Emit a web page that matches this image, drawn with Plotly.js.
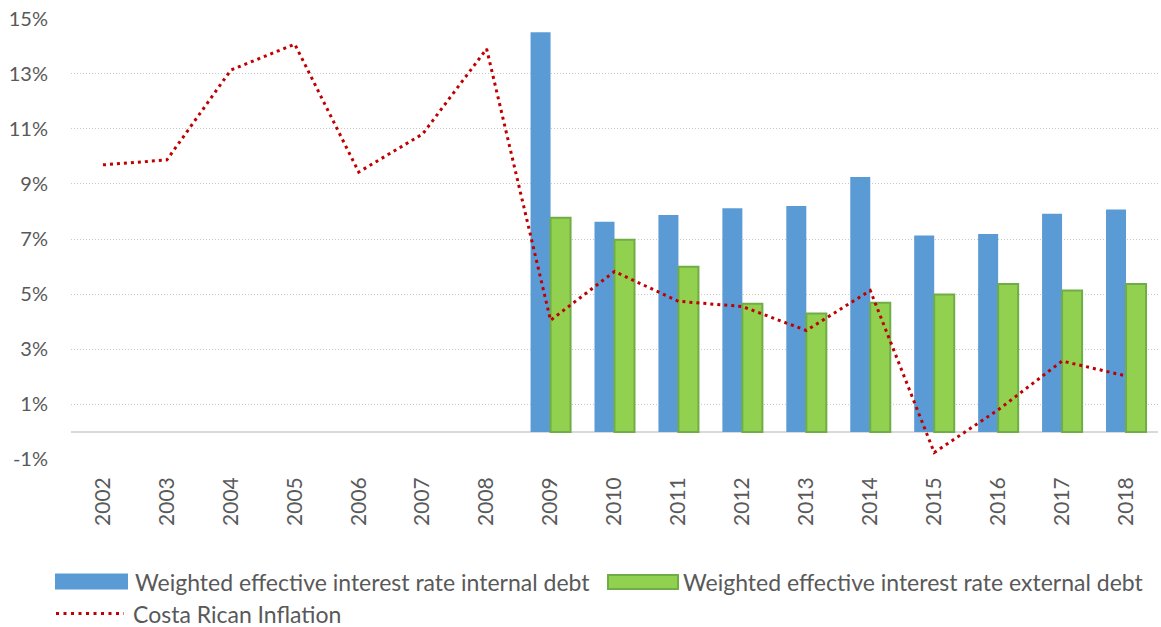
<!DOCTYPE html>
<html>
<head>
<meta charset="utf-8">
<script src="https://cdn.plot.ly/plotly-3.0.1.min.js"></script>
<style>
  html, body { margin: 0; padding: 0; background: #ffffff; }
  #chart { width: 1161px; height: 627px; }
</style>
</head>
<body>
<div id="chart"></div>
<script>
// Years on the category axis
const years = ['2002', '2003', '2004', '2005', '2006', '2007', '2008', '2009', '2010',
               '2011', '2012', '2013', '2014', '2015', '2016', '2017', '2018'];

// Weighted effective interest rate on internal debt (%), available from 2009
const internalDebt = [null, null, null, null, null, null, null,
                      14.5, 7.63, 7.87, 8.12, 8.2, 9.25, 7.13, 7.18, 7.92, 8.07];

// Weighted effective interest rate on external debt (%), available from 2009
const externalDebt = [null, null, null, null, null, null, null,
                      7.77, 6.97, 5.99, 4.65, 4.3, 4.69, 4.99, 5.37, 5.13, 5.37];

// Costa Rican inflation (%)
const inflation = [9.69, 9.87, 13.13, 14.07, 9.43, 10.81, 13.9, 4.05, 5.82,
                   4.74, 4.55, 3.68, 5.13, -0.75, 0.8, 2.57, 2.03];

// Y axis ticks
const yTicks = [-1, 1, 3, 5, 7, 9, 11, 13, 15];
const yTickText = yTicks.map(v => v + '%');

// Legend labels
const seriesNames = [
  'Weighted effective interest rate internal debt',
  'Weighted effective interest rate external debt',
  'Costa Rican Inflation'
];

const BLUE = '#5B9BD5';
const GREEN = '#92D050';
const GREEN_EDGE = '#70AD47';
const RED = '#C00000';
const TEXT = '#595959';
const FONT = 'Lato, "Open Sans", sans-serif';

const traces = [
  {
    type: 'bar', name: seriesNames[0], x: years, y: internalDebt,
    marker: { color: BLUE, line: { width: 0 } },
    showlegend: false, hoverinfo: 'skip'
  },
  {
    type: 'bar', name: seriesNames[1], x: years, y: externalDebt,
    marker: { color: GREEN, line: { color: GREEN_EDGE, width: 2 } },
    showlegend: false, hoverinfo: 'skip'
  },
  {
    type: 'scatter', mode: 'lines', name: seriesNames[2], x: years, y: inflation,
    line: { color: RED, width: 3, dash: '3px,4px' },
    showlegend: false, hoverinfo: 'skip'
  }
];

// Hand-drawn legend below the plot, placed in pixels from the plot's bottom-left corner
const legendShapes = [
  { type: 'rect', xref: 'paper', yref: 'paper', xsizemode: 'pixel', ysizemode: 'pixel',
    xanchor: 0, yanchor: 0, x0: -16, x1: 57, y0: -129.5, y1: -113.5,
    fillcolor: BLUE, line: { width: 0 } },
  { type: 'rect', xref: 'paper', yref: 'paper', xsizemode: 'pixel', ysizemode: 'pixel',
    xanchor: 0, yanchor: 0, x0: 537, x1: 607, y0: -129, y1: -115,
    fillcolor: GREEN, line: { color: GREEN_EDGE, width: 2 } },
  { type: 'line', xref: 'paper', yref: 'paper', xsizemode: 'pixel', ysizemode: 'pixel',
    xanchor: 0, yanchor: 0, x0: -15, x1: 53, y0: -153.5, y1: -153.5,
    line: { color: RED, width: 3, dash: '3px,4.5px' } }
];

const legendText = [
  { text: seriesNames[0], xshift: 62, yshift: -121.5 },
  { text: seriesNames[1], xshift: 610, yshift: -121.5 },
  { text: seriesNames[2], xshift: 60, yshift: -153.5 }
].map(a => ({
  text: a.text, xref: 'paper', yref: 'paper', x: 0, y: 0,
  xanchor: 'left', yanchor: 'middle', xshift: a.xshift, yshift: a.yshift,
  showarrow: false, font: { family: FONT, size: 23, color: TEXT }
}));

const layout = {
  width: 1161, height: 627,
  margin: { l: 71, r: 3, t: 18, b: 166.5 },
  paper_bgcolor: '#ffffff', plot_bgcolor: '#ffffff',
  barmode: 'group', bargap: 0.374, bargroupgap: 0,
  showlegend: false,
  font: { family: FONT, color: TEXT },
  xaxis: {
    type: 'category', tickangle: -90, showgrid: false, zeroline: false,
    showline: false, ticks: '', ticklabelstandoff: 12,
    tickfont: { family: FONT, size: 21, color: TEXT }
  },
  yaxis: {
    range: [-1.02, 15.02], tickmode: 'array', tickvals: yTicks, ticktext: yTickText,
    showgrid: true, gridcolor: '#c8c8c8', gridwidth: 1, griddash: '1px,2px',
    zeroline: true, zerolinecolor: '#d9d9d9', zerolinewidth: 2.5,
    showline: false, ticks: '', ticklabelstandoff: 22,
    tickfont: { family: FONT, size: 20, color: TEXT }
  },
  shapes: legendShapes,
  annotations: legendText
};

Plotly.newPlot('chart', traces, layout, { displayModeBar: false, staticPlot: true });
</script>
</body>
</html>
